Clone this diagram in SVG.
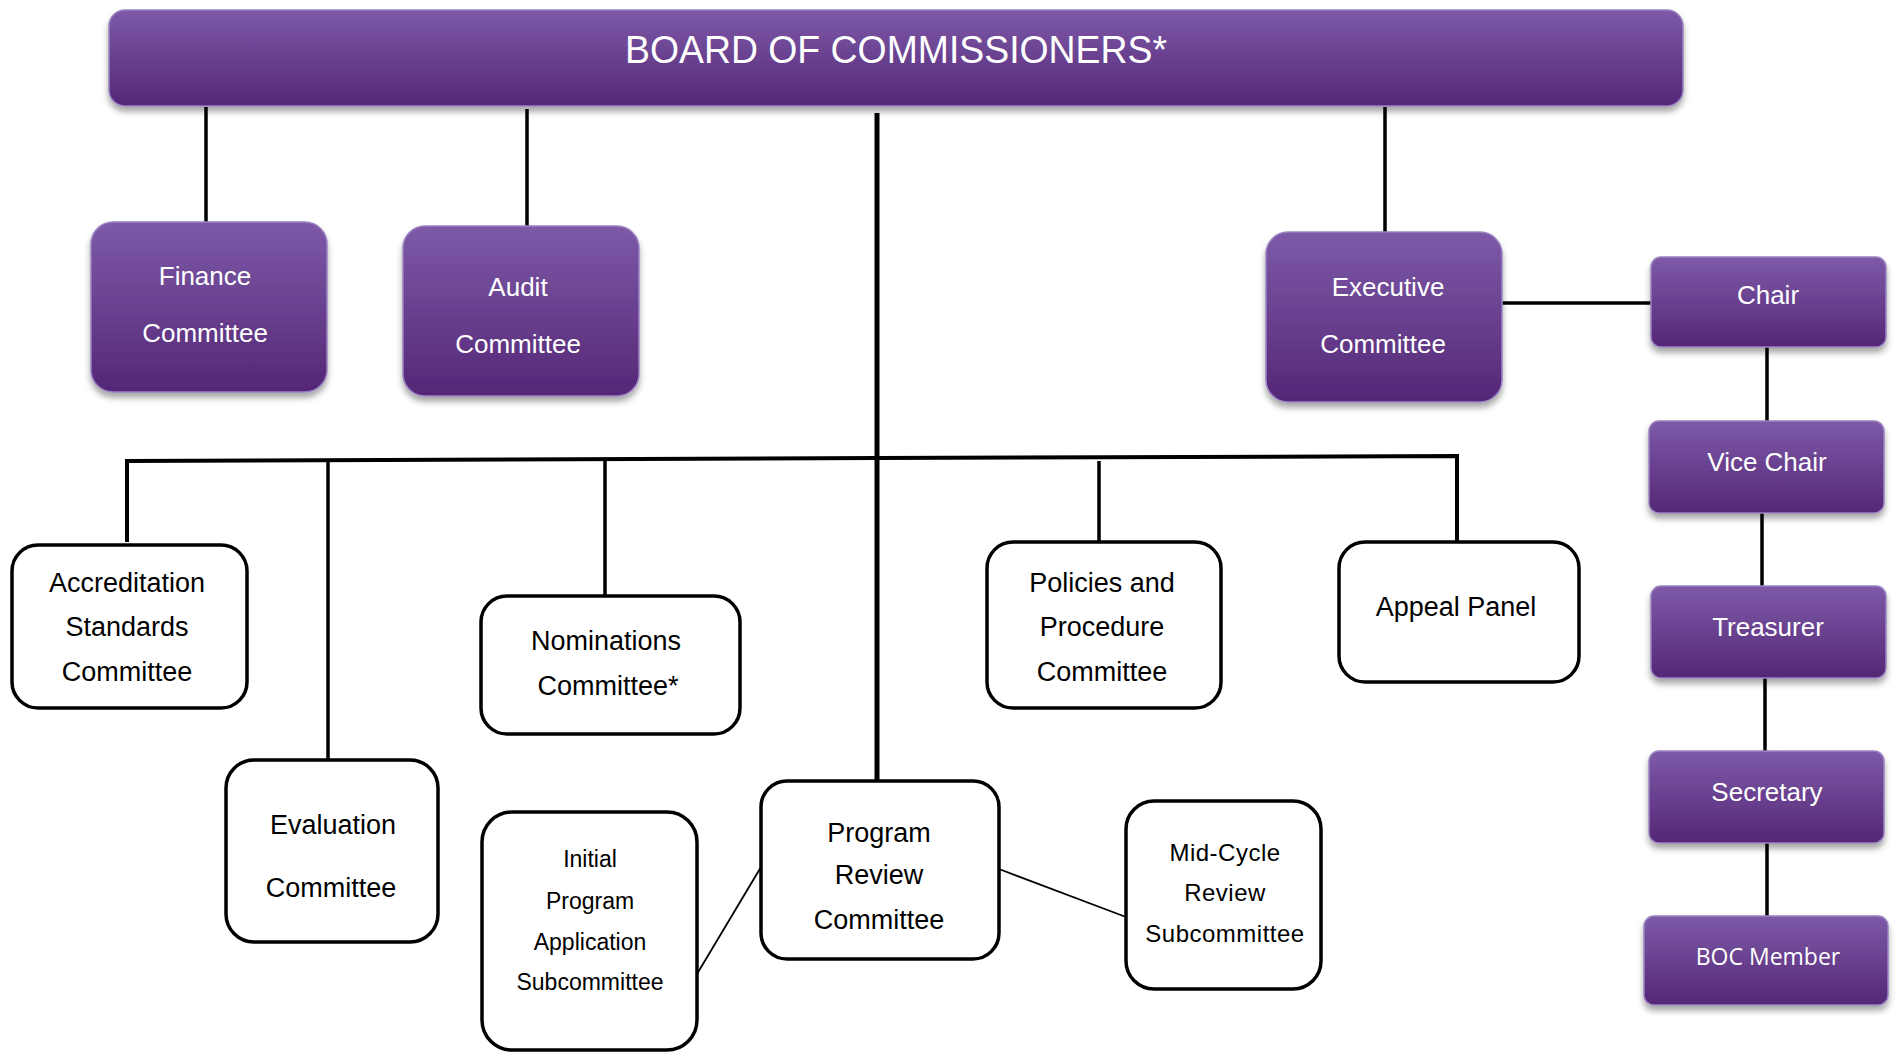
<svg xmlns="http://www.w3.org/2000/svg" width="1898" height="1053" viewBox="0 0 1898 1053">
<defs>
<linearGradient id="pg" x1="0" y1="0" x2="0" y2="1">
<stop offset="0" stop-color="#7d5aa8"/>
<stop offset="1" stop-color="#542776"/>
</linearGradient>
<filter id="sh" x="-10%" y="-10%" width="120%" height="130%">
<feDropShadow dx="0" dy="5" stdDeviation="3" flood-color="#000" flood-opacity="0.35"/>
</filter>
</defs>
<style>
.p{fill:url(#pg);stroke:#9a82c0;stroke-width:1.5;filter:url(#sh)}
.w{fill:#fff;stroke:#000;stroke-width:3.5}
.pt{font-family:"Liberation Sans",Arial,sans-serif;font-size:26px;fill:#fff;text-anchor:middle}
.wt{font-family:"Liberation Sans",Arial,sans-serif;font-size:27px;fill:#000;text-anchor:middle}
.c{stroke:#000;stroke-width:3.5;fill:none}
.thin{stroke:#000;stroke-width:1.8;fill:none}
</style>
<rect width="1898" height="1053" fill="#fff"/>
<g id="connectors">
<line class="c" x1="206" y1="107" x2="206" y2="222"/>
<line class="c" x1="527" y1="109" x2="527" y2="226"/>
<line class="c" x1="877" y1="113" x2="877" y2="781" style="stroke-width:5"/>
<line class="c" x1="1385" y1="107" x2="1385" y2="232"/>
<line class="c" x1="1502" y1="303" x2="1651" y2="303"/>
<line class="c" x1="1767" y1="347" x2="1767" y2="421"/>
<line class="c" x1="1762" y1="513" x2="1762" y2="588"/>
<line class="c" x1="1765" y1="678" x2="1765" y2="751"/>
<line class="c" x1="1767" y1="843" x2="1767" y2="916"/>
<polyline class="c" points="127,542 127,461 877,458 1457,456 1457,542" style="stroke-width:4"/>
<line class="c" x1="328" y1="461" x2="328" y2="760"/>
<line class="c" x1="605" y1="459" x2="605" y2="596"/>
<line class="c" x1="1099" y1="461" x2="1099" y2="542"/>
<line class="thin" x1="697" y1="974" x2="761" y2="867"/>
<line class="thin" x1="999" y1="869" x2="1126" y2="917"/>
</g>
<g id="board">
<rect class="p" x="109" y="10" width="1574" height="96" rx="16"/>
<text x="896" y="63" style="font-family:'Liberation Sans',Arial,sans-serif;font-size:38px;fill:#fff;text-anchor:middle" textLength="542" lengthAdjust="spacingAndGlyphs">BOARD OF COMMISSIONERS*</text>
</g>
<g id="finance">
<rect class="p" x="91" y="222" width="236" height="170" rx="22"/>
<text class="pt" x="205" y="285">Finance</text>
<text class="pt" x="205" y="342">Committee</text>
</g>
<g id="audit">
<rect class="p" x="403" y="226" width="236" height="170" rx="22"/>
<text class="pt" x="518" y="296">Audit</text>
<text class="pt" x="518" y="353">Committee</text>
</g>
<g id="executive">
<rect class="p" x="1266" y="232" width="236" height="170" rx="22"/>
<text class="pt" x="1388" y="296">Executive</text>
<text class="pt" x="1383" y="353">Committee</text>
</g>
<g id="chair">
<rect class="p" x="1651" y="257" width="235" height="90" rx="10"/>
<text class="pt" x="1768" y="304">Chair</text>
</g>
<g id="vice-chair">
<rect class="p" x="1649" y="421" width="235" height="92" rx="10"/>
<text class="pt" x="1767" y="471">Vice Chair</text>
</g>
<g id="treasurer">
<rect class="p" x="1651" y="586" width="235" height="92" rx="10"/>
<text class="pt" x="1768" y="636">Treasurer</text>
</g>
<g id="secretary">
<rect class="p" x="1649" y="751" width="235" height="92" rx="10"/>
<text class="pt" x="1767" y="801">Secretary</text>
</g>
<g id="boc-member">
<rect class="p" x="1644" y="916" width="244" height="89" rx="10"/>
<text x="1768" y="965" style="font-family:'Open Sans','Noto Sans',sans-serif;font-size:23px;fill:#fff;text-anchor:middle">BOC Member</text>
</g>
<g id="accreditation">
<rect class="w" x="12" y="545" width="235" height="163" rx="26"/>
<text class="wt" x="127" y="592">Accreditation</text>
<text class="wt" x="127" y="636">Standards</text>
<text class="wt" x="127" y="681">Committee</text>
</g>
<g id="nominations">
<rect class="w" x="481" y="596" width="259" height="138" rx="26"/>
<text class="wt" x="606" y="650">Nominations</text>
<text class="wt" x="608" y="695">Committee*</text>
</g>
<g id="policies">
<rect class="w" x="987" y="542" width="234" height="166" rx="26"/>
<text class="wt" x="1102" y="592">Policies and</text>
<text class="wt" x="1102" y="636">Procedure</text>
<text class="wt" x="1102" y="681">Committee</text>
</g>
<g id="appeal">
<rect class="w" x="1339" y="542" width="240" height="140" rx="26"/>
<text class="wt" x="1456" y="616">Appeal Panel</text>
</g>
<g id="evaluation">
<rect class="w" x="226" y="760" width="212" height="182" rx="28"/>
<text class="wt" x="333" y="834">Evaluation</text>
<text class="wt" x="331" y="897">Committee</text>
</g>
<g id="initial-program">
<rect class="w" x="482" y="812" width="215" height="238" rx="30"/>
<text class="wt" x="590" y="867" style="font-size:23px">Initial</text>
<text class="wt" x="590" y="909" style="font-size:23px">Program</text>
<text class="wt" x="590" y="950" style="font-size:23px">Application</text>
<text class="wt" x="590" y="990" style="font-size:23px">Subcommittee</text>
</g>
<g id="program-review">
<rect class="w" x="761" y="781" width="238" height="178" rx="26"/>
<text class="wt" x="879" y="842">Program</text>
<text class="wt" x="879" y="884">Review</text>
<text class="wt" x="879" y="929">Committee</text>
</g>
<g id="mid-cycle">
<rect class="w" x="1126" y="801" width="195" height="188" rx="28"/>
<text class="wt" x="1225" y="861" style="font-size:24px;letter-spacing:0.5px">Mid-Cycle</text>
<text class="wt" x="1225" y="901" style="font-size:24px;letter-spacing:0.5px">Review</text>
<text class="wt" x="1225" y="942" style="font-size:24px;letter-spacing:0.5px">Subcommittee</text>
</g>
</svg>
